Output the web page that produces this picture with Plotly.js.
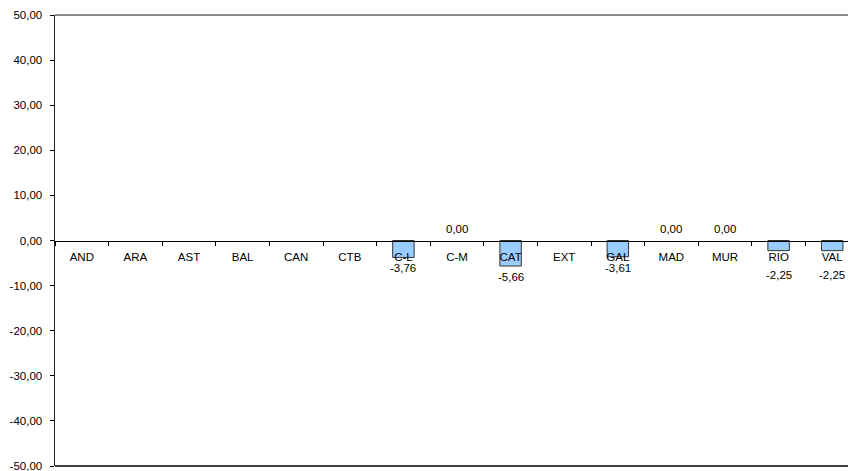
<!DOCTYPE html>
<html>
<head>
<meta charset="utf-8">
<script src="https://cdn.plot.ly/plotly-3.0.1.min.js"></script>
<style>
html,body{margin:0;padding:0;overflow:hidden;background:#fff;}
#chart{width:870px;height:471px;}
</style>
</head>
<body>
<div id="chart"></div>
<script>
var categories = ["AND","ARA","AST","BAL","CAN","CTB","C-L","C-M","CAT","EXT","GAL","MAD","MUR","RIO","VAL"];
var values = [null,null,null,null,null,null,-3.76,0.00,-5.66,null,-3.61,0.00,0.00,-2.25,-2.25];
var yTickVals = [-50,-40,-30,-20,-10,0,10,20,30,40,50];

function fmt(v){ return v.toFixed(2).replace('.', ','); }

var annotations = [];
for (var i=0;i<categories.length;i++){
  var v = values[i];
  if (v===null) continue;
  var a = {x:categories[i], y:v, xref:'x', yref:'y', text:fmt(v), showarrow:false,
           xanchor:'center', yanchor:'middle',
           font:{family:'Liberation Sans, Arial, sans-serif', size:11.5, color:'#000'}};
  if (v >= 0) { a.yshift = 12; }
  else if (v > -3.5) { a.y = 0; a.yshift = -34; }
  else { a.yshift = -11; }
  annotations.push(a);
}

var bars = {
  type:'bar', x:categories, y:values, width:0.4,
  marker:{color:'#99CCFF', line:{color:'#333333', width:values.map(function(v){return v===0?0:1;})}},
  hoverinfo:'skip'
};

var layout = {
  width:870, height:471,
  margin:{l:55, r:11, t:15, b:5, pad:0},
  paper_bgcolor:'#fff', plot_bgcolor:'#fff',
  showlegend:false,
  font:{family:'Liberation Sans, Arial, sans-serif', size:11.5, color:'#000'},
  xaxis:{
    type:'category', categoryorder:'array', categoryarray:categories,
    anchor:'free', position:0.5,
    showline:true, linecolor:'#000', linewidth:1,
    ticks:'outside', tickson:'boundaries', ticklen:4, tickcolor:'#000',
    ticklabelstandoff:6,
    showgrid:false, zeroline:false,
    tickfont:{size:11.5}
  },
  yaxis:{
    range:[-50,50], tickvals:yTickVals, ticktext:yTickVals.map(fmt),
    showline:true, linecolor:'#222', linewidth:1.5,
    ticks:'outside', ticklen:4, tickcolor:'#000',
    ticklabelstandoff:5, ticklabeloverflow:'allow',
    showgrid:false, zeroline:false,
    tickfont:{size:11.5}
  },
  annotations:annotations,
  shapes:[
    {type:'line', xref:'paper', yref:'paper', x0:0, x1:1, y0:1, y1:1, line:{color:'#666', width:1.5}},
    {type:'line', xref:'paper', yref:'paper', x0:0, x1:1, y0:0, y1:0, line:{color:'#000', width:1.5}}
  ]
};

Plotly.newPlot('chart', [bars], layout, {displayModeBar:false, staticPlot:true});
</script>
</body>
</html>
